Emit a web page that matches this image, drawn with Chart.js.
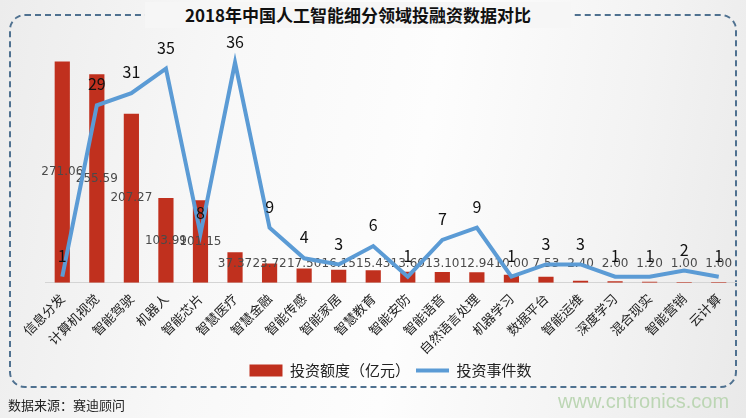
<!DOCTYPE html>
<html>
<head>
<meta charset="utf-8">
<script src="https://cdn.jsdelivr.net/npm/chart.js@4/dist/chart.umd.min.js"></script>
<style>
  html, body { margin: 0; padding: 0; }
  body {
    width: 746px; height: 418px; position: relative; overflow: hidden;
    font-family: 'Noto Sans CJK SC', sans-serif;
    background: linear-gradient(100deg, #ececec 0%, #f8f8f8 30%, #fdfdfd 55%, #f3f3f3 80%, #e9e9e9 100%);
  }
  #frame {
    position: absolute; left: 9px; top: 14px; width: 724px; height: 370px;
    border: 2.5px dashed #4f7190; border-radius: 16px;
  }
  #title {
    position: absolute; left: 145px; top: 2px; width: 426px; height: 26px;
    background: #f6f6f6; text-align: center;
    font-size: 17px; font-weight: bold; color: #111; line-height: 26px;
  }
  #source { position: absolute; left: 8px; top: 395px; font-size: 13px; color: #222; }
  #mark { position: absolute; left: 558px; top: 390px; font-size: 20px; color: #bcd6b4; font-family: 'Liberation Sans Narrow', 'Liberation Sans', sans-serif; }
  #wrap { position: absolute; left: 0; top: 0; width: 746px; height: 418px; }
</style>
</head>
<body>
<div id="frame"></div>
<div id="title">2018年中国人工智能细分领域投融资数据对比</div>
<div id="wrap"><canvas id="chart"></canvas></div>
<div id="source">数据来源：赛迪顾问</div>
<div id="mark">www.cntronics.com</div>
<script>
const categories = ['信息分发', '计算机视觉', '智能驾驶', '机器人', '智能芯片', '智慧医疗', '智慧金融', '智能传感', '智能家居', '智慧教育',
  '智能安防', '智能语音', '自然语言处理', '机器学习', '数据平台', '智能运维', '深度学习', '混合现实', '智能营销', '云计算'];
const amounts = [271.06, 255.59, 207.27, 103.99, 101.15, 37.37, 23.72, 17.50, 16.15, 15.43,
  13.60, 13.10, 12.94, 10.00, 7.53, 2.40, 2.00, 1.20, 1.00, 1.00];
const events = [1, 29, 31, 35, 8, 36, 9, 4, 3, 6, 1, 7, 9, 1, 3, 3, 1, 1, 2, 1];

const FONT = "'Noto Sans CJK SC', sans-serif";
const BAR_COLOR = '#c0301e';
const LINE_COLOR = '#5b9bd5';

// value labels: amounts in the middle of the bars, event counts above the line
const valueLabels = {
  id: 'valueLabels',
  afterDatasetDraw(chart, args) {
    if (args.index !== 0) return;
    const ctx = chart.ctx;
    ctx.save();
    ctx.font = "12px 'DejaVu Sans', sans-serif";
    ctx.fillStyle = '#4a4a4a';
    ctx.textAlign = 'center';
    ctx.textBaseline = 'middle';
    args.meta.data.forEach((el, i) => {
      const y = Math.min((el.y + el.base) / 2, el.base - 19);
      ctx.fillText(amounts[i].toFixed(2), el.x, y);
    });
    ctx.restore();
  },
  afterDatasetsDraw(chart) {
    const ctx = chart.ctx;
    const meta = chart.getDatasetMeta(1);
    ctx.save();
    ctx.font = '16px ' + FONT;
    ctx.fillStyle = '#111';
    ctx.textAlign = 'center';
    ctx.textBaseline = 'bottom';
    meta.data.forEach((el, i) => {
      ctx.fillText(String(events[i]), el.x, el.y - 13);
    });
    ctx.restore();
  }
};

new Chart(document.getElementById('chart'), {
  data: {
    labels: categories,
    datasets: [{
      type: 'bar',
      label: '投资额度（亿元）',
      data: amounts,
      backgroundColor: BAR_COLOR,
      yAxisID: 'y',
      order: 2,
      barPercentage: 0.44,
      categoryPercentage: 1
    }, {
      type: 'line',
      label: '投资事件数',
      data: events,
      borderColor: LINE_COLOR,
      backgroundColor: LINE_COLOR,
      borderWidth: 4,
      pointRadius: 0,
      tension: 0,
      yAxisID: 'y1',
      order: 1
    }]
  },
  options: {
    responsive: true,
    maintainAspectRatio: false,
    animation: false,
    layout: { padding: { top: 38, left: 45, right: 10, bottom: 30 } },
    plugins: {
      tooltip: { enabled: false },
      legend: {
        position: 'bottom',
        labels: {
          font: { family: FONT, size: 15 },
          color: '#222',
          usePointStyle: true,
          pointStyleWidth: 33,
          boxHeight: 12,
          padding: 6,
          sort: (a, b) => a.datasetIndex - b.datasetIndex,
          generateLabels(chart) {
            const items = Chart.defaults.plugins.legend.labels.generateLabels(chart);
            items.forEach(it => {
              if (it.datasetIndex === 0) {
                it.pointStyle = 'rect';
                it.lineWidth = 0;
                it.fillStyle = BAR_COLOR;
                it.strokeStyle = BAR_COLOR;
              } else {
                it.pointStyle = 'line';
                it.lineWidth = 4;
                it.strokeStyle = LINE_COLOR;
              }
            });
            return items;
          }
        }
      }
    },
    scales: {
      x: {
        grid: { display: false },
        border: { display: true, color: '#d4d4d4' },
        ticks: {
          font: { family: FONT, size: 13 },
          color: '#222',
          padding: 0,
          minRotation: 45,
          maxRotation: 45,
          autoSkip: false
        }
      },
      y: { display: false, min: 0, max: 300 },
      y1: { display: false, min: 0, max: 40 }
    }
  },
  plugins: [valueLabels]
});
</script>
</body>
</html>
